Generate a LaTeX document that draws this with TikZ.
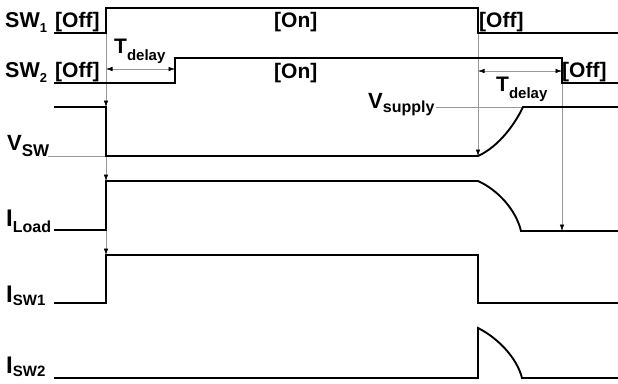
\documentclass[tikz,border=0pt]{standalone}
\usepackage{fontspec}
\setmainfont{Liberation Sans}
\usetikzlibrary{arrows.meta}

% symbol with a lowered subscript: #1 main size, #2 main text, #3 sub size, #4 drop, #5 sub text
\newcommand\sigsym[5]{{\fontsize{#1}{#1}\selectfont #2}\raisebox{-#4}{\fontsize{#3}{#3}\selectfont #5}}

\begin{document}
\begin{tikzpicture}[x=1pt,y=-1pt,
  wave/.style={line width=1.9pt, line join=miter, line cap=butt},
  guide/.style={draw=black!40, line width=0.6pt},
  tipped/.style={guide, -{Latex[length=6.5pt,width=4.5pt,color=black]}},
  twoway/.style={guide, {Latex[length=6.5pt,width=4.5pt,color=black]}-{Latex[length=6.5pt,width=4.5pt,color=black]}},
  lab/.style={anchor=base west, inner sep=0pt, font=\bfseries},
  state/.style={lab, font=\bfseries\fontsize{21}{21}\selectfont},
]
\useasboundingbox (0,0) rectangle (618,383);

% ---- guide lines (drawn first, waveforms on top)
\coordinate (sw1rise) at (106,33);
\coordinate (vswhi)   at (106,107);
\coordinate (vswlo)   at (106,156);
\coordinate (ldhi)    at (106,181);
\coordinate (ldlo)    at (106,230);
\coordinate (s1hi)    at (106,255);
\coordinate (sw1fall) at (478,33);
\coordinate (vswend)  at (478,156);
\coordinate (sw2fall) at (562,83);
\coordinate (ldend)   at (562,231);

\draw[tipped] (sw1rise) -- (vswhi);
\draw[tipped] (vswlo) -- (ldhi);
\draw[tipped] (ldlo) -- (s1hi);
\draw[tipped] (sw1fall) -- (vswend);
\draw[tipped] (sw2fall) -- (ldend);

\coordinate (d1a) at (106,69);
\coordinate (d1b) at (175,69);
\coordinate (d2a) at (478,71);
\coordinate (d2b) at (562,71);
\draw[twoway] (d1a) -- (d1b);
\draw[twoway] (d2a) -- (d2b);

\coordinate (vswlead) at (48,156);
\draw[guide] (vswlead) -- (vswlo);
\coordinate (suplead) at (436,107);
\coordinate (suptop)  at (523,107);
\draw[guide] (suplead) -- (suptop);

% ---- waveforms
\draw[wave] (54,33) -- (106,33) -- (106,8) -- (478,8) -- (478,33) -- (618,33);
\draw[wave] (54,83) -- (175,83) -- (175,58) -- (562,58) -- (562,83) -- (618,83);
\draw[wave] (54,107) -- (106,107) -- (106,156) -- (478,156)
  .. controls (500,146) and (516,122) .. (523,107) -- (618,107);
\draw[wave] (54,230) -- (106,230) -- (106,181) -- (478,181)
  .. controls (498,190) and (516,210) .. (521,231) -- (618,231);
\draw[wave] (54,303) -- (106,303) -- (106,255) -- (478,255) -- (478,303) -- (618,303);
\draw[wave] (54,378) -- (478,378) -- (478,328)
  .. controls (498,338) and (517,358) .. (522,378) -- (618,378);

% ---- signal names
\node[lab] (nsw1) at (5,27)  {\sigsym{21.5pt}{SW}{13pt}{5pt}{1}};
\node[lab] (nsw2) at (5,77)  {\sigsym{21.5pt}{SW}{13pt}{5pt}{2}};
\node[lab] (nvsw) at (7,150) {\sigsym{22pt}{V}{17pt}{6pt}{SW}};
\node[lab] (nld)  at (6,226) {\sigsym{24pt}{I}{16pt}{6pt}{Load}};
\node[lab] (ni1)  at (6,302) {\sigsym{24pt}{I}{15pt}{3.5pt}{SW1}};
\node[lab] (ni2)  at (6,373) {\sigsym{24pt}{I}{15pt}{3.5pt}{SW2}};

% ---- state labels
\node[state] (off1a) at (55,27)  {[Off]};
\node[state] (off2a) at (55,77)  {[Off]};
\node[state] (on1)   at (274,27) {[On]};
\node[state] (on2)   at (274,78) {[On]};
\node[state] (off1b) at (479,27) {[Off]};
\node[state] (off2b) at (562,77) {[Off]};

% ---- timing annotations
\node[lab] (td1) at (114,53) {\sigsym{21pt}{T}{15pt}{7pt}{delay}};
\node[lab] (td2) at (496,91) {\sigsym{21pt}{T}{15pt}{7pt}{delay}};
\node[lab] (vsup) at (368,108) {\sigsym{22pt}{V}{16pt}{4.5pt}{supply}};
\end{tikzpicture}
\end{document}
